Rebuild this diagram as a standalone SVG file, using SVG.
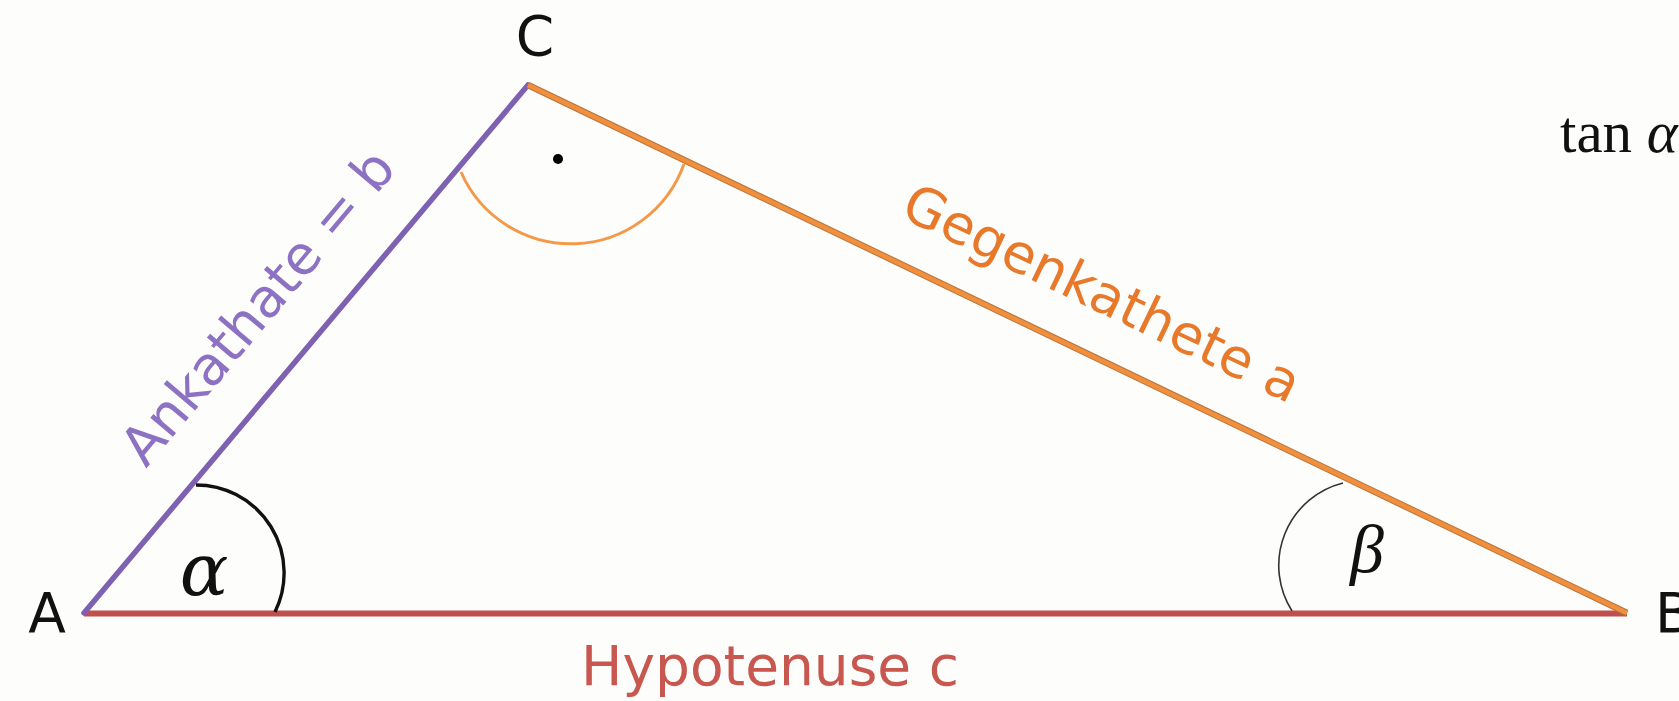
<svg xmlns="http://www.w3.org/2000/svg" width="1679" height="701" viewBox="0 0 1679 701">
  <style>
    .lbl { font-family: "DejaVu Sans", "Open Sans", sans-serif; }
    .vtx { font-family: "DejaVu Sans", sans-serif; font-size: 55px; fill: #111; }
    .greek { font-style: italic; fill: #111; }
    .arc { fill: none; }
  </style>
  <rect width="1679" height="701" fill="#FDFDFB"/>
  <g id="sides">
    <line id="side-c" x1="84" y1="613.5" x2="1627" y2="613.5" stroke="#C0504D" stroke-width="6"/>
    <line id="side-b" x1="84" y1="613" x2="528" y2="85" stroke="#7E61B0" stroke-width="5.5" stroke-linecap="round"/>
    <line x1="528" y1="85" x2="1627" y2="613" stroke="#B9743A" stroke-width="6.5"/>
    <line id="side-a" x1="528" y1="85" x2="1627" y2="613" stroke="#F0903E" stroke-width="4.5"/>
  </g>
  <g id="angles">
    <path id="angle-alpha" class="arc" d="M196 485 A88 88 0 0 1 275 612" stroke="#111" stroke-width="3.4"/>
    <path id="angle-beta" class="arc" d="M1343 483 A85 85 0 0 0 1292 611" stroke="#333" stroke-width="1.6"/>
    <path id="angle-right" class="arc" d="M461 172 A120 120 0 0 0 684 164" stroke="#F39A4A" stroke-width="3"/>
    <circle cx="558" cy="159" r="5" fill="#000"/>
  </g>
  <g id="labels">
    <text class="vtx" x="535" y="55" text-anchor="middle">C</text>
    <text class="vtx" x="47" y="632" text-anchor="middle">A</text>
    <text class="vtx" x="1655" y="632">B</text>
    <text class="greek" x="204" y="595" font-size="72" font-family="DejaVu Serif, serif" text-anchor="middle">α</text>
    <text class="greek" x="1367" y="572" font-size="68" font-family="Liberation Serif, serif" text-anchor="middle">β</text>
    <text class="lbl" x="770" y="685" font-size="55" fill="#C8574F" text-anchor="middle">Hypotenuse c</text>
    <text class="lbl" transform="translate(272,319) rotate(-49.94)" font-size="54" fill="#8D72C4" text-anchor="middle">Ankathate = b</text>
    <text class="lbl" transform="translate(1094,310) rotate(25.66)" font-size="54" fill="#E8782A" text-anchor="middle">Gegenkathete a</text>
    <text x="1560" y="152" font-family="Liberation Serif, serif" font-size="59" fill="#111">tan <tspan font-style="italic">α</tspan></text>
  </g>
</svg>
